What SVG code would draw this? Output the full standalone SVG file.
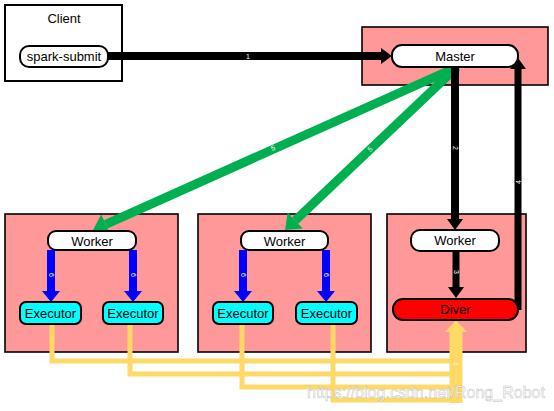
<svg xmlns="http://www.w3.org/2000/svg" width="554" height="411" viewBox="0 0 554 411">
<style>
.box{fill:#ffffff;stroke:#000;stroke-width:2}
.zone{fill:#ff9999;stroke:#000;stroke-width:1.6}
.pill{fill:#ffffff;stroke:#000;stroke-width:2}
.exec{fill:#00ffff;stroke:#000;stroke-width:2}
.diver{fill:#ff0000;stroke:#000;stroke-width:2}
.t{font-family:"Liberation Sans",Arial,sans-serif;font-size:13px;fill:#000;text-anchor:middle;dominant-baseline:central}
.lbl{font-family:"Liberation Sans",Arial,sans-serif;font-size:7px;fill:#fff;text-anchor:middle;dominant-baseline:central}
.blk{stroke:#000;fill:none}
.grn{stroke:#00b050;stroke-width:9;fill:none;marker-end:url(#hg)}
.blu{stroke:#0000ff;stroke-width:8;fill:none;marker-end:url(#hb)}
.yel{stroke:#ffd966;stroke-width:5;fill:none;stroke-linejoin:miter}
</style>
<defs>
<marker id="hk" markerUnits="userSpaceOnUse" markerWidth="11" markerHeight="16" refX="0" refY="8" orient="auto"><path d="M0,0 L11,8 L0,16 z" fill="#000"/></marker>
<marker id="hg" markerUnits="userSpaceOnUse" markerWidth="14" markerHeight="22" refX="0" refY="11" orient="auto"><path d="M0,0 L14,11 L0,22 z" fill="#00b050"/></marker>
<marker id="hb" markerUnits="userSpaceOnUse" markerWidth="11" markerHeight="18" refX="0" refY="9" orient="auto"><path d="M0,0 L11,9 L0,18 z" fill="#0000ff"/></marker>
<marker id="hy" markerUnits="userSpaceOnUse" markerWidth="12" markerHeight="22" refX="0" refY="11" orient="auto"><path d="M0,0 L12,11 L0,22 z" fill="#ffd966"/></marker>
</defs>

<g id="client"><rect class="box" x="5" y="5" width="117" height="76"/><text class="t" x="64" y="18">Client</text></g>
<g id="master-host"><rect class="zone" x="362" y="27" width="186" height="58"/></g>
<g id="host1"><rect class="zone" x="5" y="214" width="173" height="138"/></g>
<g id="host2"><rect class="zone" x="198" y="214" width="173" height="138"/></g>
<g id="host3"><rect class="zone" x="387" y="214" width="139" height="138"/></g>

<g id="connectors">
<path class="yel" d="M52,324 V361 H452"/>
<path class="yel" d="M130,324 V374 H452"/>
<path class="yel" d="M242,324 V387 H452"/>
<path class="yel" d="M333,324 V400 H452"/>
<path d="M456,403 V332" stroke="#ffd966" stroke-width="13" fill="none" marker-end="url(#hy)"/>
<text class="lbl" transform="translate(456,364) rotate(-90)">7</text>

<path class="blk" stroke-width="8" d="M108,56 H381" marker-end="url(#hk)"/>
<text class="lbl" x="248" y="56">1</text>

<path class="grn" d="M457,67 L105.8,224.3"/>
<path class="grn" d="M457,67 L295.2,220.4"/>
<text class="lbl" transform="translate(273,148) rotate(-24)">5</text>
<text class="lbl" transform="translate(370,149) rotate(-43)">5</text>

<path class="blk" stroke-width="8" d="M455,67 V219" marker-end="url(#hk)"/>
<text class="lbl" transform="translate(455,148) rotate(90)">2</text>

<path class="blk" stroke-width="7" d="M456,251 V287" marker-end="url(#hk)"/>
<text class="lbl" transform="translate(456,272) rotate(90)">3</text>

<path class="blk" stroke-width="7" d="M518,310 V69" marker-end="url(#hk)"/>
<text class="lbl" transform="translate(518,182) rotate(-90)">4</text>

<path class="blu" d="M51,250 V291"/>
<path class="blu" d="M133,250 V291"/>
<path class="blu" d="M243,250 V291"/>
<path class="blu" d="M326,250 V291"/>
<text class="lbl" transform="translate(51,275) rotate(90)">6</text>
<text class="lbl" transform="translate(133,275) rotate(90)">6</text>
<text class="lbl" transform="translate(243,275) rotate(90)">6</text>
<text class="lbl" transform="translate(326,275) rotate(90)">6</text>
</g>

<g id="spark-submit"><rect class="pill" x="20" y="46" width="88" height="21" rx="9"/><text class="t" x="64" y="56.5">spark-submit</text></g>
<g id="master"><rect class="pill" x="392" y="45" width="126" height="22" rx="10"/><text class="t" x="455" y="56">Master</text></g>
<g id="worker1"><rect class="pill" x="48" y="231" width="88" height="19" rx="8"/><text class="t" x="92" y="241">Worker</text></g>
<g id="worker2"><rect class="pill" x="241" y="231" width="87" height="19" rx="8"/><text class="t" x="284.5" y="241">Worker</text></g>
<g id="worker3"><rect class="pill" x="411" y="230" width="88" height="21" rx="9"/><text class="t" x="455" y="240.5">Worker</text></g>
<g id="executor1"><rect class="exec" x="20" y="302" width="61" height="22" rx="6"/><text class="t" x="50.5" y="313">Executor</text></g>
<g id="executor2"><rect class="exec" x="103" y="302" width="60" height="22" rx="6"/><text class="t" x="133" y="313">Executor</text></g>
<g id="executor3"><rect class="exec" x="213" y="302" width="60" height="22" rx="6"/><text class="t" x="243" y="313">Executor</text></g>
<g id="executor4"><rect class="exec" x="296" y="302" width="61" height="22" rx="6"/><text class="t" x="326.5" y="313">Executor</text></g>
<g id="diver"><rect class="diver" x="393" y="299" width="125" height="21" rx="10"/><text class="t" x="455.5" y="309.5">Diver</text></g>

<text x="307" y="398" textLength="238" lengthAdjust="spacingAndGlyphs" font-family="'Liberation Sans',Arial,sans-serif" font-size="16" fill="#ffffff" fill-opacity="0.85" stroke="#b0b0b0" stroke-width="0.5" stroke-opacity="0.8">https://blog.csdn.net/Rong_Robot</text>
</svg>
